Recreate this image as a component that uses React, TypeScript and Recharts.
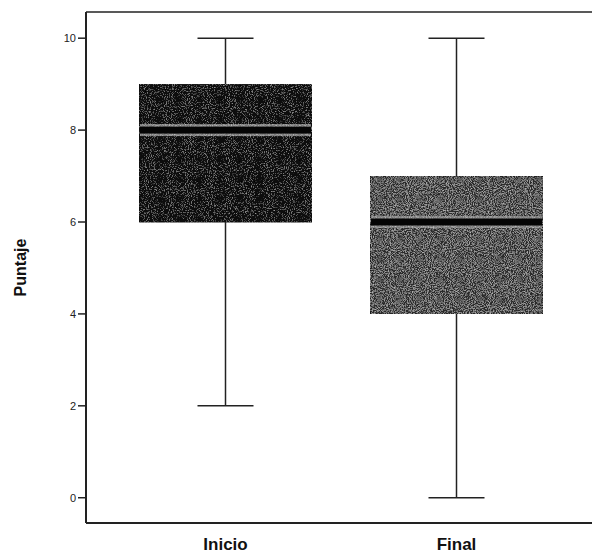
import React from 'react';
import { ComposedChart, Bar, XAxis, YAxis } from 'recharts';

const categories = ['Inicio', 'Final'];
const minVals = [2, 0];
const q1Vals = [6, 4];
const medianVals = [8, 6];
const q3Vals = [9, 7];
const maxVals = [10, 10];
const yTicks = [0, 2, 4, 6, 8, 10];
const boxFills = ['#101010', '#2c2c2c'];
const speckles = ['url(#speckleDark)', 'url(#speckleMid)'];

const data = categories.map((name, i) => ({
  name,
  base: minVals[i],
  lowWhisker: q1Vals[i] - minVals[i],
  lowBox: medianVals[i] - q1Vals[i],
  highBox: q3Vals[i] - medianVals[i],
  highWhisker: maxVals[i] - q3Vals[i],
}));

const CAP = 56;
const FONT = 'Liberation Sans, Arial, sans-serif';

const LowWhisker = (props: any) => {
  const { x, y, width, height } = props;
  const cx = x + width / 2;
  return (
    <g stroke="#222" strokeWidth={1.5}>
      <line x1={cx} x2={cx} y1={y} y2={y + height} />
      <line x1={cx - CAP / 2} x2={cx + CAP / 2} y1={y + height} y2={y + height} />
    </g>
  );
};

const HighWhisker = (props: any) => {
  const { x, y, width, height } = props;
  const cx = x + width / 2;
  return (
    <g stroke="#222" strokeWidth={1.5}>
      <line x1={cx} x2={cx} y1={y} y2={y + height} />
      <line x1={cx - CAP / 2} x2={cx + CAP / 2} y1={y} y2={y} />
    </g>
  );
};

const LowBox = (props: any) => {
  const { x, y, width, height, index } = props;
  return (
    <rect x={x} y={y} width={width} height={height} fill={boxFills[index]}
      stroke="#111" strokeWidth={1} filter={speckles[index]} />
  );
};

// upper half of box, median band sits on its lower edge
const HighBox = (props: any) => {
  const { x, y, width, height, index } = props;
  const my = y + height;
  return (
    <g>
      <rect x={x} y={y} width={width} height={height} fill={boxFills[index]}
        stroke="#111" strokeWidth={1} filter={speckles[index]} />
      <rect x={x + 1} y={my - 6} width={width - 2} height={12} fill="#7a7a7a" filter="url(#speckleMid)" />
      <rect x={x + 1} y={my - 3.5} width={width - 2} height={7} fill="#050505" />
    </g>
  );
};

const CatTick = (props: any) => {
  const { x, y, payload } = props;
  return (
    <text x={x} y={y + 19} textAnchor="middle" fontSize={17} fontWeight="bold"
      fontFamily={FONT} fill="#111">
      {payload.value}
    </text>
  );
};

const noiseFilter = (id: string, gain: number, offset: number, tone: number) => (
  <filter id={id} x="0" y="0" width="100%" height="100%">
    <feTurbulence type="fractalNoise" baseFrequency="0.95" numOctaves="2" seed="4" result="n" />
    <feColorMatrix in="n" type="matrix"
      values={`0 0 0 0 ${tone}  0 0 0 0 ${tone}  0 0 0 0 ${tone}  ${gain} 0 0 0 ${offset}`} result="dots" />
    <feComposite in="dots" in2="SourceGraphic" operator="in" result="clipped" />
    <feMerge>
      <feMergeNode in="SourceGraphic" />
      <feMergeNode in="clipped" />
    </feMerge>
  </filter>
);

export default function App() {
  return (
    <div style={{ position: 'absolute', left: 0, top: 0, background: '#fff' }}>
      <ComposedChart width={593} height={557} data={data}
        margin={{ top: 11, right: 1, bottom: 0, left: 0 }}>
        <defs>
          {noiseFilter('speckleDark', 1.6, -0.85, 0.55)}
          {noiseFilter('speckleMid', 1.8, -0.75, 0.6)}
        </defs>
        <XAxis dataKey="name" padding={{ left: 24, right: 20 }} tickLine={false}
          axisLine={{ stroke: '#222', strokeWidth: 2 }} height={34} tick={<CatTick />} interval={0} />
        <XAxis xAxisId="top" orientation="top" dataKey="name" height={1} tick={false} tickLine={false}
          axisLine={{ stroke: '#222', strokeWidth: 1.5 }} />
        <YAxis type="number" domain={[-0.55, 10.57]} ticks={yTicks} width={86} tickSize={8} tickMargin={2}
          axisLine={{ stroke: '#222', strokeWidth: 2 }} tickLine={{ stroke: '#222', strokeWidth: 1.5 }}
          tick={{ fontSize: 11, fill: '#222', fontFamily: FONT }}
          allowDataOverflow
          label={{ value: 'Puntaje', angle: -90, position: 'insideLeft', offset: 20,
            style: { textAnchor: 'middle', fontSize: 16, fontWeight: 'bold', fill: '#111', fontFamily: FONT } }} />
        <Bar dataKey="base" stackId="b" fill="transparent" barSize={173} isAnimationActive={false} />
        <Bar dataKey="lowWhisker" stackId="b" barSize={173} shape={<LowWhisker />} isAnimationActive={false} />
        <Bar dataKey="lowBox" stackId="b" barSize={173} shape={<LowBox />} isAnimationActive={false} />
        <Bar dataKey="highBox" stackId="b" barSize={173} shape={<HighBox />} isAnimationActive={false} />
        <Bar dataKey="highWhisker" stackId="b" barSize={173} shape={<HighWhisker />} isAnimationActive={false} />
      </ComposedChart>
    </div>
  );
}
